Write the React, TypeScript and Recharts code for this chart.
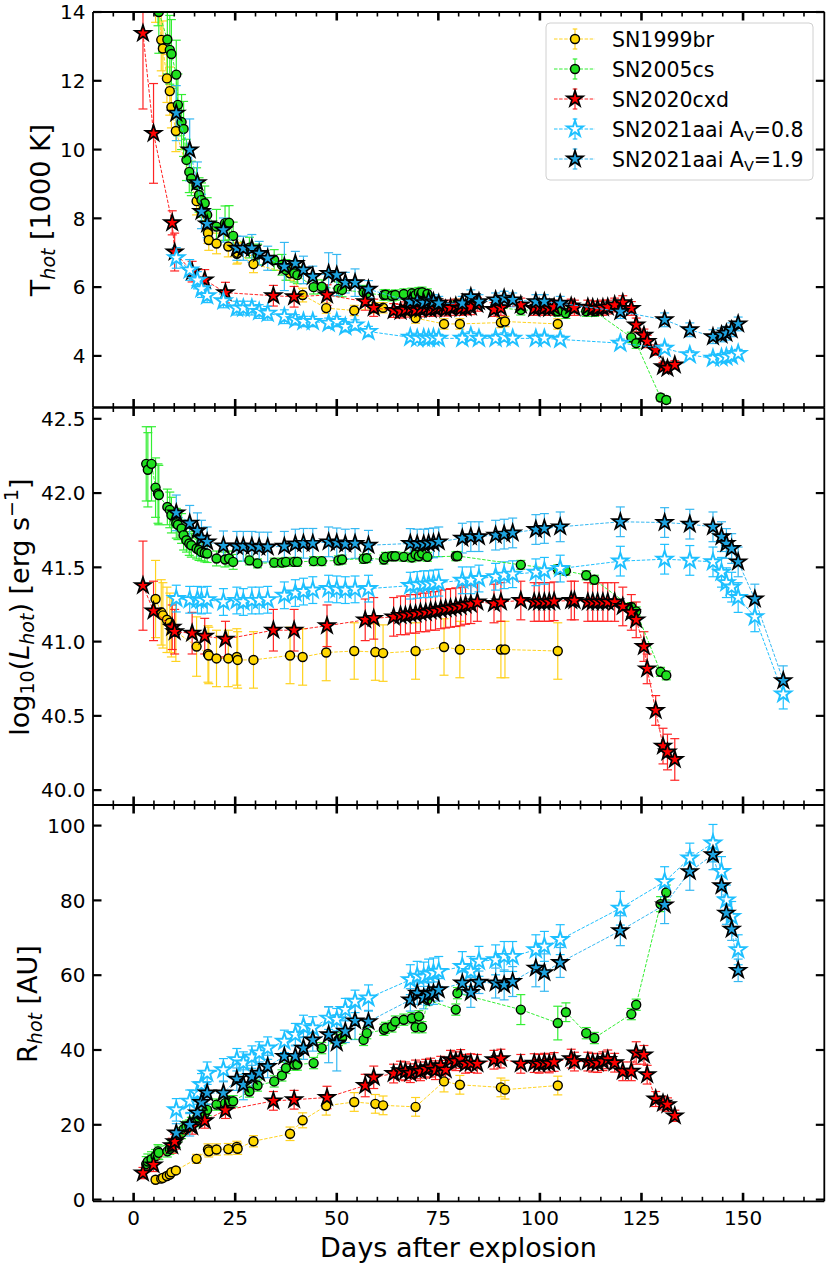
import React from 'react'
import { ScatterChart, Scatter, XAxis, YAxis, ErrorBar } from 'recharts'

const W = 831
const H = 1268
const FONT = '"DejaVu Sans", Verdana, sans-serif'
const PLOT_LEFT = 93
const PLOT_RIGHT = 824.3

// ---- SN1999br (yellow circles)
const yellowDays = [5.4, 6.8, 7.2, 8.2, 8.9, 9.3, 10.4, 15.5, 18.3, 18.5,
  20.4, 23.3, 25.4, 25.6, 29.5, 38.5, 41.6, 47.4, 54.3, 59.5,
  61.4, 69.4, 76.4, 80.3, 90.4, 91.4, 104.4]
const yellowT = [15.2, 13.19, 12.94, 12.07, 11.7, 11.23, 10.54, 8.5, 7.57, 7.37,
  7.27, 7.18, 6.97, 7.0, 6.67, 6.4, 5.77, 5.39, 5.32, 5.4,
  5.4, 5.1, 4.93, 4.93, 4.97, 5.0, 4.93]
const yellowTerr = [1.5, 0.9, 0.8, 0.7, 0.7, 0.6, 0.6, 0.4, 0.3, 0.3,
  0.3, 0.3, 0.3, 0.3, 0.25, 0.2, 0.2, 0.15, 0.15, 0.15,
  0.15, 0.15, 0.15, 0.15, 0.15, 0.15, 0.15]
const yellowL = [41.29, 41.2, 41.18, 41.15, 41.13, 41.1, 41.07, 40.97, 40.92, 40.91,
  40.89, 40.89, 40.9, 40.88, 40.88, 40.91, 40.9, 40.93, 40.94, 40.933,
  40.926, 40.94, 40.967, 40.95, 40.95, 40.95, 40.94]
const yellowLerr = [0.26, 0.22, 0.22, 0.22, 0.2, 0.2, 0.2, 0.2, 0.19, 0.19,
  0.19, 0.19, 0.19, 0.19, 0.19, 0.19, 0.19, 0.19, 0.19, 0.19,
  0.19, 0.19, 0.19, 0.19, 0.19, 0.19, 0.19]
const yellowR = [5.3, 5.6, 5.8, 6.3, 6.7, 7.3, 7.8, 10.9, 13.4, 12.9,
  13.4, 13.5, 14.1, 13.6, 15.6, 17.6, 21.2, 25.1, 26.1, 25.6,
  25.2, 24.8, 31.6, 30.7, 30.0, 29.4, 30.5]
const yellowRerr = [0.8, 0.8, 0.8, 0.8, 0.8, 0.8, 0.8, 1.2, 1.5, 1.5,
  1.5, 1.5, 1.5, 1.5, 1.5, 1.8, 2, 2.5, 2.5, 2.5,
  2.5, 2.5, 2.8, 2.5, 2.5, 2.5, 2.5]

// ---- SN2005cs (green circles)
const greenDays = [3.1, 3.5, 4.4, 5.4, 6.0, 6.2, 8.3, 8.9, 9.3, 10.5,
  10.9, 11.8, 12.3, 13.0, 13.7, 14.2, 15.5, 16.1, 16.7, 17.5,
  18.1, 20.4, 22.5, 23.5, 24.5, 28.5, 30.5, 34.6, 36.5, 37.5,
  39.5, 40.3, 44.3, 46.3, 50.4, 51.3, 56.6, 57.4, 61.6, 62.0,
  63.6, 64.4, 66.5, 68.5, 69.4, 70.2, 71.0, 72.3, 79.3, 79.7,
  95.3, 104.4, 106.4, 111.4, 113.4, 122.5, 123.7, 129.7, 131.1]
const greenT = [17.5, 17.0, 16.5, 15.5, 14.8, 14.0, 13.2, 12.9, 12.78, 12.18,
  11.3, 10.8, 10.6, 9.7, 9.35, 9.16, 8.97, 8.68, 8.53, 8.44,
  8.1, 7.76, 7.86, 7.87, 7.49, 7.15, 6.95, 6.79, 6.65, 6.5,
  6.4, 6.35, 6.0, 6.01, 5.95, 5.92, 5.85, 5.82, 5.77, 5.78,
  5.75, 5.77, 5.8, 5.82, 5.77, 5.84, 5.85, 5.8, 5.43, 5.5,
  5.34, 5.3, 5.24, 5.3, 5.3, 4.54, 4.37, 2.79, 2.72]
const greenTerr = [2, 2, 2, 1.5, 1.2, 1.2, 1.0, 1.0, 1.0, 1.0,
  0.9, 0.8, 0.8, 0.6, 0.6, 0.5, 0.5, 0.5, 0.5, 0.5,
  0.5, 0.5, 0.5, 0.5, 0.4, 0.3, 0.3, 0.3, 0.3, 0.3,
  0.25, 0.25, 0.2, 0.2, 0.2, 0.2, 0.2, 0.2, 0.15, 0.15,
  0.15, 0.15, 0.15, 0.15, 0.15, 0.15, 0.15, 0.15, 0.15, 0.15,
  0.15, 0.15, 0.15, 0.15, 0.15, 0.15, 0.15, 0.1, 0.1]
const greenL = [42.2, 42.16, 42.2, 42.04, 42.0, 41.99, 41.91, 41.89, 41.855, 41.8,
  41.79, 41.765, 41.72, 41.686, 41.664, 41.652, 41.63, 41.62, 41.607, 41.6,
  41.596, 41.563, 41.556, 41.563, 41.54, 41.55, 41.53, 41.535, 41.535, 41.54,
  41.54, 41.54, 41.545, 41.545, 41.55, 41.556, 41.56, 41.565, 41.556, 41.574,
  41.578, 41.578, 41.574, 41.57, 41.59, 41.578, 41.596, 41.574, 41.578, 41.58,
  41.52, 41.49, 41.48, 41.45, 41.42, 41.236, 41.207, 40.8, 40.776]
const greenLerr = [0.25, 0.25, 0.25, 0.2, 0.2, 0.2, 0.12, 0.12, 0.12, 0.1,
  0.1, 0.1, 0.1, 0.08, 0.08, 0.08, 0.07, 0.07, 0.06, 0.06,
  0.06, 0.05, 0.05, 0.05, 0.05, 0.03, 0.03, 0.03, 0.03, 0.03,
  0.03, 0.03, 0.03, 0.03, 0.03, 0.03, 0.03, 0.03, 0.03, 0.03,
  0.03, 0.03, 0.03, 0.03, 0.03, 0.03, 0.03, 0.03, 0.03, 0.03,
  0.03, 0.03, 0.03, 0.03, 0.03, 0.03, 0.03, 0.03, 0.03]
const greenR = [9.5, 10.2, 10.8, 11.6, 12.9, 12.5, 12.9, 13.6, 14.2, 15.5,
  16.9, 17.8, 18.8, 19.5, 19.8, 20.5, 21.0, 21.8, 22.5, 23.0,
  24.0, 25.4, 25.8, 26.3, 26.3, 28.9, 30.5, 31.6, 33.2, 35.2,
  36.1, 36.1, 36.5, 40.5, 42.7, 43.2, 42.7, 44.5, 45.4, 45.9,
  46.3, 47.6, 48.1, 48.5, 46.1, 49.0, 46.1, 53.4, 50.8, 55.2,
  50.8, 47.2, 50.1, 44.5, 43.2, 49.6, 52.1, 79.0, 82.1]
const greenRerr = [2, 2, 2, 1.8, 1.8, 1.8, 1.5, 1.5, 1.5, 1.5,
  1.5, 1.5, 1.5, 1.5, 1.5, 1.5, 1.5, 1.5, 1.5, 1.5,
  1.5, 1.5, 1.5, 1.5, 1.5, 1.5, 1.5, 1.5, 1.5, 1.5,
  1.5, 1.5, 1.5, 1.5, 1.5, 1.5, 1.5, 1.5, 1.5, 1.5,
  1.5, 1.5, 1.5, 1.5, 1.5, 1.5, 1.5, 1.5, 1.5, 1.5,
  4, 4.5, 2.5, 1.5, 1.5, 1.5, 1.5, 2, 2]

// ---- SN2020cxd (red stars)
const redDays = [2.3, 4.9, 9.5, 10.1, 14.4, 17.5, 22.6, 34.4, 39.5, 47.6,
  57.0, 59.1, 64.0, 65.7, 66.9, 68.1, 69.4, 70.6, 71.9, 73.1,
  74.3, 75.6, 76.8, 78.0, 79.3, 80.5, 81.7, 83.0, 84.6, 88.7,
  90.4, 95.3, 98.6, 99.8, 101.1, 102.3, 103.5, 107.7, 108.5, 111.8,
  113.0, 114.2, 115.5, 116.7, 118.4, 120.4, 122.5, 123.7, 125.6, 126.4,
  128.5, 130.3, 131.4, 133.2]
const redT = [13.38, 10.47, 7.87, 7.02, 6.45, 6.21, 5.84, 5.75, 5.72, 5.77,
  5.58, 5.4, 5.32, 5.3, 5.35, 5.38, 5.33, 5.36, 5.4, 5.35,
  5.38, 5.42, 5.36, 5.4, 5.45, 5.38, 5.4, 5.42, 5.5, 5.35,
  5.4, 5.48, 5.38, 5.42, 5.4, 5.38, 5.42, 5.45, 5.4, 5.42,
  5.4, 5.38, 5.4, 5.42, 5.48, 5.55, 5.38, 4.9, 4.6, 4.42,
  4.17, 3.69, 3.64, 3.74]
const redTerr = [2.2, 1.45, 0.35, 0.55, 0.3, 0.3, 0.3, 0.3, 0.3, 0.3,
  0.25, 0.25, 0.2, 0.2, 0.22, 0.2, 0.2, 0.22, 0.2, 0.2,
  0.22, 0.2, 0.2, 0.22, 0.2, 0.2, 0.2, 0.22, 0.2, 0.2,
  0.22, 0.2, 0.2, 0.2, 0.22, 0.2, 0.2, 0.2, 0.22, 0.2,
  0.2, 0.2, 0.22, 0.2, 0.2, 0.2, 0.2, 0.2, 0.18, 0.18,
  0.15, 0.12, 0.12, 0.12]
const redL = [41.38, 41.21, 41.1, 41.07, 41.06, 41.04, 41.02, 41.08, 41.08, 41.11,
  41.15, 41.16, 41.17, 41.18, 41.18, 41.19, 41.19, 41.2, 41.2, 41.21,
  41.21, 41.22, 41.225, 41.23, 41.235, 41.24, 41.25, 41.255, 41.27, 41.26,
  41.27, 41.28, 41.27, 41.27, 41.27, 41.27, 41.275, 41.28, 41.28, 41.27,
  41.27, 41.27, 41.27, 41.27, 41.27, 41.24, 41.2, 41.15, 40.97, 40.82,
  40.54, 40.3, 40.26, 40.21]
const redLerr = [0.3, 0.2, 0.15, 0.15, 0.14, 0.12, 0.12, 0.14, 0.14, 0.14,
  0.14, 0.14, 0.13, 0.13, 0.13, 0.13, 0.13, 0.13, 0.13, 0.13,
  0.13, 0.13, 0.13, 0.13, 0.13, 0.13, 0.13, 0.13, 0.13, 0.13,
  0.13, 0.13, 0.13, 0.13, 0.13, 0.13, 0.13, 0.13, 0.13, 0.13,
  0.13, 0.13, 0.13, 0.13, 0.13, 0.13, 0.12, 0.12, 0.1, 0.1,
  0.1, 0.12, 0.12, 0.14]
const redR = [7.1, 9.3, 14.4, 15.5, 19.5, 21.1, 23.9, 26.4, 26.7, 27.3,
  30.5, 32.7, 33.7, 34.5, 34.3, 33.8, 34.8, 34.3, 35.0, 35.3,
  34.6, 35.8, 34.7, 37.4, 37.0, 37.6, 36.3, 36.5, 36.3, 37.4,
  37.7, 36.3, 36.5, 36.3, 36.6, 36.4, 36.8, 37.7, 36.9, 36.9,
  36.6, 36.5, 37.0, 37.5, 36.6, 34.3, 34.3, 39.2, 38.7, 33.4,
  26.9, 25.8, 25.4, 22.4]
const redRerr = [1.5, 1.8, 2, 2, 2, 2, 2.2, 2.5, 2.5, 3,
  3, 3, 2.5, 2.5, 2.5, 2.5, 2.5, 2.5, 2.5, 2.5,
  2.5, 2.5, 2.5, 2.5, 2.5, 2.5, 2.5, 2.5, 2.5, 2.5,
  2.5, 2.5, 2.5, 2.5, 2.5, 2.5, 2.5, 2.5, 2.5, 2.5,
  2.5, 2.5, 2.5, 2.5, 2.5, 2.5, 2.5, 3, 2.5, 2.5,
  2, 1.8, 1.8, 1.5]

// ---- SN2021aai (both extinctions share epochs)
const aaiDays = [10.5, 13.8, 15.7, 16.7, 18.1, 22.1, 25.4, 27.0, 29.1, 30.9,
  33.0, 37.1, 39.8, 41.8, 44.1, 48.0, 50.0, 52.1, 54.5, 57.8,
  68.1, 69.8, 71.4, 72.6, 73.8, 75.1, 80.9, 83.0, 85.0, 89.1,
  91.2, 93.3, 99.0, 101.1, 105.0, 119.8, 130.7, 136.9, 142.6, 144.7,
  145.9, 147.2, 148.8, 152.9, 159.9]

// A_V = 0.8 (open stars)
const openT = [6.85, 6.5, 6.2, 5.95, 5.75, 5.6, 5.39, 5.39, 5.39, 5.29,
  5.24, 5.14, 5.05, 5.0, 5.0, 4.95, 5.0, 4.85, 4.9, 4.71,
  4.54, 4.51, 4.52, 4.51, 4.53, 4.51, 4.51, 4.58, 4.51, 4.51,
  4.55, 4.51, 4.51, 4.51, 4.48, 4.37, 4.22, 4.03, 3.93, 3.95,
  3.97, 4.0, 4.07, null, null]
const openTerr = [0.3, 0.3, 0.25, 0.25, 0.2, 0.2, 0.2, 0.2, 0.2, 0.2,
  0.2, 0.2, 0.15, 0.15, 0.15, 0.15, 0.15, 0.15, 0.15, 0.15,
  0.12, 0.12, 0.12, 0.12, 0.12, 0.12, 0.12, 0.12, 0.12, 0.12,
  0.12, 0.12, 0.12, 0.12, 0.12, 0.12, 0.12, 0.12, 0.12, 0.12,
  0.12, 0.12, 0.12, 0, 0]
const openL = [41.293, 41.285, 41.285, 41.28, 41.285, 41.27, 41.28, 41.27, 41.28, 41.28,
  41.285, 41.315, 41.33, 41.34, 41.35, 41.36, 41.355, 41.35, 41.355, 41.36,
  41.38, 41.385, 41.39, 41.39, 41.395, 41.4, 41.416, 41.416, 41.428, 41.44,
  41.45, 41.457, 41.47, 41.48, 41.495, 41.545, 41.558, 41.55, 41.54, 41.47,
  41.4, 41.37, 41.3, 41.17, 40.65]
const openLerr = [0.09, 0.09, 0.09, 0.09, 0.09, 0.09, 0.09, 0.09, 0.09, 0.09,
  0.09, 0.09, 0.09, 0.09, 0.09, 0.09, 0.09, 0.09, 0.09, 0.09,
  0.09, 0.09, 0.09, 0.09, 0.09, 0.09, 0.09, 0.09, 0.09, 0.09,
  0.09, 0.09, 0.09, 0.09, 0.09, 0.1, 0.1, 0.1, 0.1, 0.1,
  0.1, 0.1, 0.1, 0.1, 0.1]
const openR = [24.0, 26.3, 28.5, 30.7, 33.8, 34.7, 37.4, 36.5, 38.1, 39.2,
  40.5, 42.3, 44.1, 46.3, 45.9, 48.5, 48.1, 50.8, 53.0, 53.9,
  58.8, 59.7, 59.5, 60.3, 60.6, 61.0, 62.3, 61.0, 63.7, 64.1,
  65.0, 65.0, 66.8, 67.7, 69.5, 77.9, 85.0, 91.3, 95.3, 87.7,
  80.1, 75.7, 66.8, null, null]
const openRerr = [3, 3, 3, 3, 3, 3, 3, 3, 3, 3,
  3, 3, 3, 3, 3, 3, 3, 3, 3, 3.5,
  4, 4, 4, 4, 4, 4, 4, 4, 4, 4,
  4, 4, 4, 4, 4, 4.5, 4, 4, 5, 4,
  4, 4, 4, 0, 0]

// A_V = 1.9 (filled stars)
const fullT = [11.06, 9.99, 9.04, 8.2, 7.84, 7.66, 7.13, 7.13, 7.13, 6.98,
  6.84, 6.6, 6.69, 6.5, 6.31, 6.4, 6.35, 6.13, 6.13, 5.94,
  5.58, 5.6, 5.55, 5.62, 5.58, 5.53, 5.53, 5.72, 5.58, 5.63,
  5.68, 5.63, 5.58, 5.58, 5.53, 5.29, 5.05, 4.76, 4.56, 4.61,
  4.66, 4.76, 4.93, null, null]
const fullTerr = [0.8, 0.9, 0.6, 0.5, 0.4, 0.35, 0.35, 0.35, 0.4, 0.35,
  0.35, 0.7, 0.35, 0.4, 0.3, 0.6, 0.6, 0.3, 0.4, 0.25,
  0.2, 0.2, 0.2, 0.2, 0.2, 0.2, 0.2, 0.2, 0.2, 0.2,
  0.2, 0.2, 0.2, 0.2, 0.2, 0.2, 0.2, 0.2, 0.2, 0.2,
  0.2, 0.2, 0.2, 0, 0]
const fullL = [41.87, 41.8, 41.75, 41.7, 41.675, 41.648, 41.645, 41.645, 41.645, 41.64,
  41.64, 41.645, 41.66, 41.665, 41.665, 41.675, 41.668, 41.66, 41.664, 41.652,
  41.664, 41.66, 41.66, 41.665, 41.668, 41.675, 41.7, 41.71, 41.71, 41.72,
  41.727, 41.735, 41.758, 41.765, 41.776, 41.81, 41.805, 41.794, 41.776, 41.71,
  41.664, 41.63, 41.54, 41.29, 40.74]
const fullLerr = [0.12, 0.12, 0.12, 0.12, 0.1, 0.1, 0.1, 0.1, 0.1, 0.1,
  0.1, 0.1, 0.1, 0.1, 0.1, 0.1, 0.1, 0.1, 0.1, 0.1,
  0.1, 0.1, 0.1, 0.1, 0.1, 0.1, 0.1, 0.1, 0.1, 0.1,
  0.1, 0.1, 0.1, 0.1, 0.1, 0.1, 0.1, 0.1, 0.1, 0.1,
  0.1, 0.1, 0.1, 0.1, 0.1]
const fullR = [17.8, 20.0, 23.2, 26.0, 28.5, 28.5, 32.2, 30.7, 32.9, 33.8,
  35.6, 38.3, 38.3, 40.5, 42.7, 44.1, 41.9, 45.0, 47.8, 47.6,
  53.4, 55.2, 54.0, 55.0, 55.2, 56.1, 57.9, 55.4, 58.1, 57.9,
  57.4, 58.3, 61.9, 60.7, 63.4, 71.9, 78.8, 87.7, 92.2, 83.9,
  76.6, 72.3, 61.3, null, null]
const fullRerr = [2.5, 3, 3, 3, 3, 3, 3, 4, 3, 3,
  3, 3, 3, 3, 3, 7.5, 7.5, 3, 5, 3,
  3, 3, 3, 3, 3, 3, 3, 4, 3, 4,
  4, 4, 5, 5, 4, 4, 5, 5, 4, 3,
  3, 3, 3, 0, 0]

// ---- axes
const X_DOMAIN: [number, number] = [-10, 170]
const X_MAJOR = [0, 25, 50, 75, 100, 125, 150]
const X_MINOR = [-5, 5, 10, 15, 20, 30, 35, 40, 45, 55, 60, 65, 70, 80, 85, 90, 95,
  105, 110, 115, 120, 130, 135, 140, 145, 155, 160, 165]
const T_TICKS = [4, 6, 8, 10, 12, 14]
const L_TICKS = [40.0, 40.5, 41.0, 41.5, 42.0, 42.5]
const R_TICKS = [0, 20, 40, 60, 80, 100]

type Pt = { x: number; y: number; e: number }

function zip(days: number[], vals: (number | null)[], errs: number[]): Pt[] {
  const out: Pt[] = []
  days.forEach((d, i) => {
    const v = vals[i]
    if (v == null) return
    out.push({ x: d, y: v, e: errs[i] ?? 0 })
  })
  return out
}

type Series = {
  name: string
  sub?: string
  post?: string
  kind: 'circle' | 'star'
  fill: string
  edge: string
  edgeWidth: number
  line: string
  days: number[]
  T: (number | null)[]
  Terr: number[]
  L: (number | null)[]
  Lerr: number[]
  R: (number | null)[]
  Rerr: number[]
}

const SERIES: Series[] = [
  { name: 'SN1999br', kind: 'circle', fill: '#ffd700', edge: '#000', edgeWidth: 1.4, line: '#ffd21f',
    days: yellowDays, T: yellowT, Terr: yellowTerr, L: yellowL, Lerr: yellowLerr, R: yellowR, Rerr: yellowRerr },
  { name: 'SN2005cs', kind: 'circle', fill: '#1fe01f', edge: '#000', edgeWidth: 1.4, line: '#33ee33',
    days: greenDays, T: greenT, Terr: greenTerr, L: greenL, Lerr: greenLerr, R: greenR, Rerr: greenRerr },
  { name: 'SN2020cxd', kind: 'star', fill: '#ff0000', edge: '#000', edgeWidth: 1.7, line: '#ff2424',
    days: redDays, T: redT, Terr: redTerr, L: redL, Lerr: redLerr, R: redR, Rerr: redRerr },
  { name: 'SN2021aai A', sub: 'V', post: '=0.8', kind: 'star', fill: '#ffffff', edge: '#1ec0ff', edgeWidth: 1.9, line: '#1ec0ff',
    days: aaiDays, T: openT, Terr: openTerr, L: openL, Lerr: openLerr, R: openR, Rerr: openRerr },
  { name: 'SN2021aai A', sub: 'V', post: '=1.9', kind: 'star', fill: '#1ca3e0', edge: '#000', edgeWidth: 1.7, line: '#35b8f2',
    days: aaiDays, T: fullT, Terr: fullTerr, L: fullL, Lerr: fullLerr, R: fullR, Rerr: fullRerr },
]

function starPath(cx: number, cy: number, r: number) {
  const ri = r * 0.382
  let d = ''
  for (let k = 0; k < 10; k++) {
    const rad = k % 2 === 0 ? r : ri
    const a = -Math.PI / 2 + (k * Math.PI) / 5
    d += (k === 0 ? 'M' : 'L') + (cx + rad * Math.cos(a)).toFixed(2) + ',' + (cy + rad * Math.sin(a)).toFixed(2)
  }
  return d + 'Z'
}

function Marker({ s, cx, cy }: { s: Series; cx: number; cy: number }) {
  if (cx == null || cy == null || isNaN(cx) || isNaN(cy)) return <g />
  if (s.kind === 'circle') {
    return <circle cx={cx} cy={cy} r={4.5} fill={s.fill} stroke={s.edge} strokeWidth={s.edgeWidth} />
  }
  return <path d={starPath(cx, cy, 8.4)} fill={s.fill} stroke={s.edge} strokeWidth={s.edgeWidth} strokeLinejoin="miter" />
}

type PanelCfg = {
  top: number
  bottom: number
  domain: [number, number]
  ticks: number[]
  fmt: (v: number) => string
  pick: (s: Series) => Pt[]
  xLabels: boolean
}

const PANELS: PanelCfg[] = [
  { top: 12, bottom: 407.5, domain: [2.5, 14], ticks: T_TICKS, fmt: (v) => String(v),
    pick: (s) => zip(s.days, s.T, s.Terr), xLabels: false },
  { top: 407.5, bottom: 805, domain: [39.9, 42.576], ticks: L_TICKS, fmt: (v) => v.toFixed(1),
    pick: (s) => zip(s.days, s.L, s.Lerr), xLabels: false },
  { top: 805, bottom: 1201.3, domain: [-0.45, 105.5], ticks: R_TICKS, fmt: (v) => String(v),
    pick: (s) => zip(s.days, s.R, s.Rerr), xLabels: true },
]

const axisLine = { stroke: '#000', strokeWidth: 1.8 }
const TINY = 0.01
const MAJOR_LEN = 8.5
const MINOR_LEN = 4.5

type Side = 'left' | 'right' | 'top' | 'bottom'

// inward matplotlib-style tick, placed from the coordinate the axis scale gives
function makeTick(side: Side, edge: number, len: number, width: number, label?: (v: number) => string) {
  return (props: any) => {
    const c: number = props.payload?.coordinate ?? (side === 'left' || side === 'right' ? props.y : props.x)
    const v: number = props.payload?.value
    let ln
    if (side === 'left') ln = { x1: edge, x2: edge + len, y1: c, y2: c }
    else if (side === 'right') ln = { x1: edge, x2: edge - len, y1: c, y2: c }
    else if (side === 'top') ln = { x1: c, x2: c, y1: edge, y2: edge + len }
    else ln = { x1: c, x2: c, y1: edge, y2: edge - len }
    return (
      <g>
        <line {...ln} stroke="#000" strokeWidth={width} />
        {label && side === 'left' ? (
          <text x={edge - 7.5} y={c} dy="0.36em" textAnchor="end" fontSize={20} fontFamily={FONT} fill="#000">{label(v)}</text>
        ) : null}
        {label && side === 'bottom' ? (
          <text x={c} y={edge + 9} dy="0.72em" textAnchor="middle" fontSize={20} fontFamily={FONT} fill="#000">{label(v)}</text>
        ) : null}
      </g>
    )
  }
}

// frame, ticks and tick labels
function PanelAxes({ cfg }: { cfg: PanelCfg }) {
  return (
    <div style={{ position: 'absolute', left: 0, top: 0 }}>
      <ScatterChart width={W} height={H}
        margin={{ top: cfg.top, bottom: H - cfg.bottom, left: PLOT_LEFT - TINY, right: W - PLOT_RIGHT - TINY }}>
        <XAxis xAxisId="b" type="number" dataKey="x" domain={X_DOMAIN} ticks={X_MAJOR} allowDataOverflow
          orientation="bottom" height={TINY} interval={0} tickLine={false} axisLine={axisLine}
          tick={makeTick('bottom', cfg.bottom, MAJOR_LEN, 2.6, cfg.xLabels ? (v) => String(v) : undefined)} />
        <XAxis xAxisId="bm" type="number" dataKey="x" domain={X_DOMAIN} ticks={X_MINOR} allowDataOverflow
          orientation="bottom" height={TINY} interval={0} tickLine={false} axisLine={false}
          tick={makeTick('bottom', cfg.bottom, MINOR_LEN, 1.6)} />
        <XAxis xAxisId="t" type="number" dataKey="x" domain={X_DOMAIN} ticks={X_MAJOR} allowDataOverflow
          orientation="top" height={TINY} interval={0} tickLine={false} axisLine={axisLine}
          tick={makeTick('top', cfg.top, MAJOR_LEN, 2.6)} />
        <XAxis xAxisId="tm" type="number" dataKey="x" domain={X_DOMAIN} ticks={X_MINOR} allowDataOverflow
          orientation="top" height={TINY} interval={0} tickLine={false} axisLine={false}
          tick={makeTick('top', cfg.top, MINOR_LEN, 1.6)} />
        <YAxis yAxisId="l" type="number" dataKey="y" domain={cfg.domain} ticks={cfg.ticks} allowDataOverflow
          orientation="left" width={TINY} interval={0} tickLine={false} axisLine={axisLine}
          tick={makeTick('left', PLOT_LEFT, MAJOR_LEN, 2.2, cfg.fmt)} />
        <YAxis yAxisId="r" type="number" dataKey="y" domain={cfg.domain} ticks={cfg.ticks} allowDataOverflow
          orientation="right" width={TINY} interval={0} tickLine={false} axisLine={axisLine}
          tick={makeTick('right', PLOT_RIGHT, MAJOR_LEN, 2.2)} />
        <Scatter xAxisId="b" yAxisId="l" data={[]} isAnimationActive={false} legendType="none" />
      </ScatterChart>
    </div>
  )
}

// markers, lines and error bars, clipped to the plot box
function PanelData({ cfg }: { cfg: PanelCfg }) {
  const w = PLOT_RIGHT - PLOT_LEFT
  const h = cfg.bottom - cfg.top
  return (
    <div style={{ position: 'absolute', left: PLOT_LEFT, top: cfg.top, width: w, height: h, overflow: 'hidden' }}>
      <ScatterChart width={w} height={h} margin={{ top: 0, bottom: 0, left: 0, right: 0 }}>
        <XAxis xAxisId="b" type="number" dataKey="x" domain={X_DOMAIN} allowDataOverflow hide />
        <YAxis yAxisId="l" type="number" dataKey="y" domain={cfg.domain} allowDataOverflow hide />
        {SERIES.map((s, i) => (
          <Scatter
            key={i}
            xAxisId="b"
            yAxisId="l"
            data={cfg.pick(s)}
            fill={s.fill}
            line={{ stroke: s.line, strokeWidth: 1, strokeDasharray: '3.5 1.6' }}
            lineType="joint"
            legendType="none"
            isAnimationActive={false}
            shape={(p: any) => <Marker s={s} cx={p.cx} cy={p.cy} />}
          >
            <ErrorBar dataKey="e" direction="y" width={4.5} stroke={s.line} strokeWidth={1.2} isAnimationActive={false} />
          </Scatter>
        ))}
      </ScatterChart>
    </div>
  )
}

function Legend() {
  const x0 = 546
  const y0 = 23
  return (
    <g>
      <rect x={x0} y={y0} width={267} height={157} rx={4} fill="#fff" fillOpacity={0.85} stroke="#d0d0d0" strokeWidth={1} />
      {SERIES.map((s, i) => {
        const cy = 39 + i * 30
        return (
          <g key={i}>
            <line x1={554} x2={595} y1={cy} y2={cy} stroke={s.line} strokeWidth={1} strokeDasharray="3.5 1.6" />
            <line x1={575} x2={575} y1={cy - 10} y2={cy + 10} stroke={s.line} strokeWidth={1.2} />
            <line x1={572.7} x2={577.3} y1={cy - 10} y2={cy - 10} stroke={s.line} strokeWidth={1.2} />
            <line x1={572.7} x2={577.3} y1={cy + 10} y2={cy + 10} stroke={s.line} strokeWidth={1.2} />
            <Marker s={s} cx={575} cy={cy} />
            <text x={612} y={cy + 7.5} fontSize={20.5} fontFamily={FONT} fill="#000">
              {s.name}
              {s.sub ? <tspan fontSize={14.5} dy={4}>{s.sub}</tspan> : null}
              {s.post ? <tspan dy={-4}>{s.post}</tspan> : null}
            </text>
          </g>
        )
      })}
    </g>
  )
}

function Labels() {
  const fs = 27
  const sub = 19
  return (
    <g fontFamily={FONT} fill="#000">
      <text transform="translate(50,210) rotate(-90)" textAnchor="middle" fontSize={fs}>
        T<tspan fontSize={sub} fontStyle="italic" dy={5}>hot</tspan>
        <tspan dy={-5}> [1000 K]</tspan>
      </text>
      <text transform="translate(29,607) rotate(-90)" textAnchor="middle" fontSize={fs}>
        log<tspan fontSize={sub} dy={5}>10</tspan>
        <tspan dy={-5}>(</tspan>
        <tspan fontStyle="italic">L</tspan>
        <tspan fontSize={sub} fontStyle="italic" dy={5}>hot</tspan>
        <tspan dy={-5}>) [erg s</tspan>
        <tspan fontSize={sub} dy={-11}>−1</tspan>
        <tspan dy={11}>]</tspan>
      </text>
      <text transform="translate(37,1004) rotate(-90)" textAnchor="middle" fontSize={fs}>
        R<tspan fontSize={sub} fontStyle="italic" dy={5}>hot</tspan>
        <tspan dy={-5}> [AU]</tspan>
      </text>
      <text x={458.5} y={1257} textAnchor="middle" fontSize={fs}>Days after explosion</text>
    </g>
  )
}

export default function App() {
  return (
    <div style={{ position: 'absolute', left: 0, top: 0, width: W, height: H, background: '#fff', fontFamily: FONT }}>
      {PANELS.map((cfg, i) => (
        <PanelData key={'d' + i} cfg={cfg} />
      ))}
      {PANELS.map((cfg, i) => (
        <PanelAxes key={'a' + i} cfg={cfg} />
      ))}
      <svg width={W} height={H} style={{ position: 'absolute', left: 0, top: 0, pointerEvents: 'none' }}>
        <Labels />
        <Legend />
      </svg>
    </div>
  )
}
